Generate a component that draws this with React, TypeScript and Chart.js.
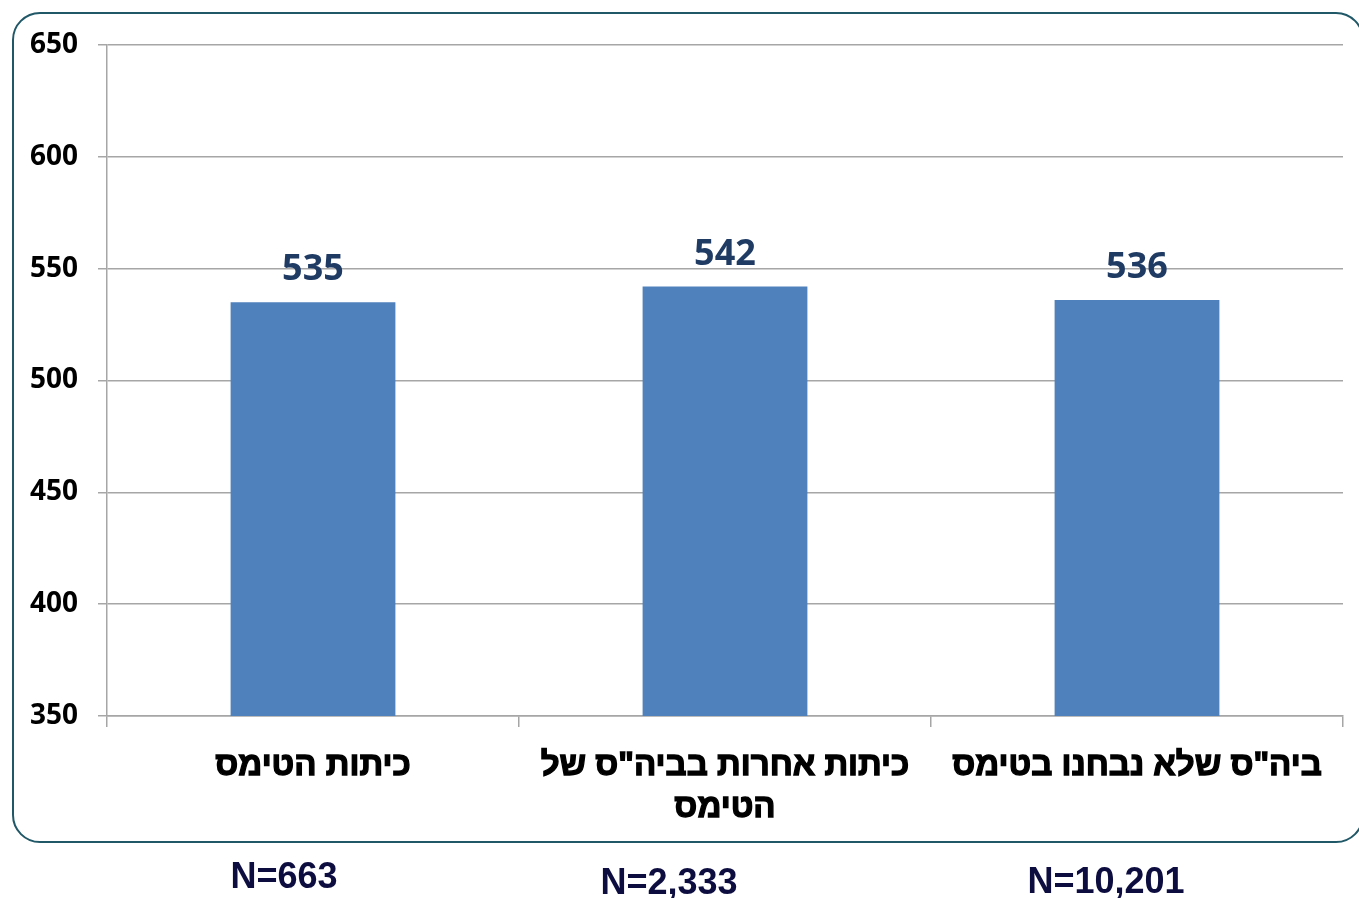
import React, { useEffect, useRef } from "react";
import { Chart, registerables } from "chart.js";

Chart.register(...registerables);

const categories: (string | string[])[] = [
  "כיתות הטימס",
  ['כיתות אחרות בביה"ס של', "הטימס"],
  'ביה"ס שלא נבחנו בטימס',
];
const scores: number[] = [535, 542, 536];
const nLabels: string[] = ["N=663", "N=2,333", "N=10,201"];
const nLabelLeft: number[] = [284, 669, 1106];
const nLabelTop: number[] = [876, 882, 881];
const yTicks: number[] = [350, 400, 450, 500, 550, 600, 650];

const W = 1359;
const H = 898;

const valueLabelPlugin = {
  id: "valueLabels",
  afterDatasetsDraw(chart: any) {
    const ctx = chart.ctx;
    const meta = chart.getDatasetMeta(0);
    ctx.save();
    ctx.fillStyle = "#1f3b64";
    ctx.font = 'bold 36px "Open Sans"';
    ctx.textAlign = "center";
    ctx.textBaseline = "alphabetic";
    meta.data.forEach((el: any, i: number) => {
      ctx.fillText(String(chart.data.datasets[0].data[i]), el.x, el.y - 22);
    });
    ctx.restore();
  },
};

export default function App() {
  const ref = useRef<HTMLCanvasElement | null>(null);
  useEffect(() => {
    if (!ref.current) return;
    const chart = new Chart(ref.current, {
      type: "bar",
      data: {
        labels: categories,
        datasets: [
          {
            data: scores,
            backgroundColor: "#4f81bd",
            borderWidth: 0,
            categoryPercentage: 1,
            barPercentage: 0.4,
          },
        ],
      },
      options: {
        responsive: false,
        animation: false,
        layout: { padding: { left: 0, right: 16, top: 45, bottom: 0 } },
        plugins: { legend: { display: false }, tooltip: { enabled: false } },
        scales: {
          x: {
            offset: true,
            grid: {
              offset: true,
              drawOnChartArea: false,
              drawTicks: true,
              tickLength: 11,
              color: "#a6a6a6",
              lineWidth: 1.5,
            },
            border: { display: true, color: "#a6a6a6", width: 1.5 },
            ticks: {
              color: "#000000",
              textStrokeColor: "#000000",
              textStrokeWidth: 1.3,
              padding: 17,
              maxRotation: 0,
              autoSkip: false,
              font: { family: '"Liberation Sans", Arial', size: 33, weight: "bold", lineHeight: 1.3 },
            },
            afterFit: (s: any) => {
              s.height = H - 716;
            },
          },
          y: {
            min: 350,
            max: 650,
            afterBuildTicks: (s: any) => {
              s.ticks = yTicks.map((v) => ({ value: v }));
            },
            grid: {
              color: "#a6a6a6",
              lineWidth: 1.5,
              tickLength: 9,
            },
            border: { display: true, color: "#a6a6a6", width: 1.5 },
            ticks: {
              color: "#000000",
              padding: 20,
              font: { family: '"Open Sans"', size: 28, weight: "bold" },
            },
            afterFit: (s: any) => {
              s.width = 107;
            },
          },
        },
      },
      plugins: [valueLabelPlugin],
    });
    return () => chart.destroy();
  }, []);

  return (
    <div style={{ position: "absolute", left: 0, top: 0, width: W, height: H, background: "#fff", overflow: "hidden" }}>
      <div
        style={{
          position: "absolute",
          left: 12,
          top: 12,
          width: 1352,
          height: 831,
          border: "2px solid #215868",
          borderRadius: 28,
          boxSizing: "border-box",
        }}
      />
      <canvas ref={ref} width={W} height={H} style={{ position: "absolute", left: 0, top: 0 }} />
      {nLabels.map((t, i) => (
        <div
          key={t}
          style={{
            position: "absolute",
            left: nLabelLeft[i],
            top: nLabelTop[i],
            transform: "translate(-50%, -50%)",
            fontFamily: '"Liberation Sans", Arial',
            fontWeight: "bold",
            fontSize: 36,
            color: "#0d0d40",
            whiteSpace: "nowrap",
            lineHeight: 1,
          }}
        >
          {t}
        </div>
      ))}
    </div>
  );
}
